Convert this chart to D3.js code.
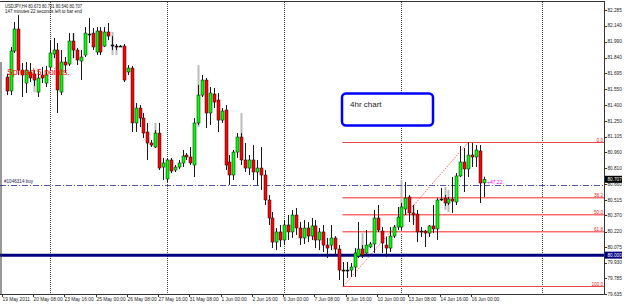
<!DOCTYPE html>
<html>
<head>
<meta charset="utf-8">
<script src="https://cdn.jsdelivr.net/npm/d3@7"></script>
<style>
  html, body { margin: 0; padding: 0; background: #fff; }
  svg { display: block; font-family: "Liberation Sans", Arial, sans-serif; }
</style>
</head>
<body>
<div class="chart"></div>
<script>
// USDJPY H4 candles, bar index 1..123 (bar 0 = 19 May 2011 00:00)
const firstBar = 1;
const open = [81.660,81.530,81.903,82.108,81.725,81.604,81.707,81.688,81.520,81.679,
  81.604,81.753,81.875,81.912,81.520,81.800,81.781,81.996,81.912,81.809,
  81.865,82.061,82.070,81.893,82.089,81.949,82.080,81.959,81.949,81.949,
  81.949,81.707,81.744,81.232,81.371,81.278,81.148,81.045,81.008,81.138,
  80.821,80.710,80.887,80.793,80.821,80.859,80.933,80.915,80.840,81.232,
  81.492,81.632,81.325,81.502,81.446,81.259,81.353,80.868,80.747,80.961,
  81.101,80.887,80.812,80.887,80.775,80.812,80.747,80.514,80.346,80.122,
  80.216,80.141,80.281,80.216,80.374,80.253,80.160,80.253,80.178,80.272,
  80.141,80.216,80.094,80.094,80.160,80.057,79.861,79.852,79.861,79.889,
  79.992,80.057,80.020,80.076,80.104,80.346,80.225,80.094,80.066,80.178,
  80.262,80.262,80.430,80.542,80.393,80.383,80.225,80.225,80.206,80.272,
  80.244,80.514,80.532,80.486,80.523,80.495,80.738,80.868,80.803,80.933,
  80.915,80.971,80.673];
const high = [81.688,81.940,82.173,82.238,81.791,81.800,81.791,81.725,81.725,81.753,
  81.763,82.005,82.024,81.977,81.912,81.847,82.070,82.070,81.931,81.912,
  82.126,82.210,82.117,82.126,82.126,82.126,82.164,82.042,81.968,81.959,
  81.968,81.772,81.763,81.418,81.399,81.325,81.232,81.073,81.166,81.232,
  80.905,80.905,80.905,80.840,80.887,80.980,80.952,81.008,81.278,81.586,
  81.679,81.651,81.567,81.558,81.511,81.371,81.399,80.933,80.980,81.138,
  81.138,81.045,80.933,81.026,80.887,81.008,80.793,80.560,80.402,80.253,
  80.281,80.327,80.374,80.421,80.439,80.309,80.327,80.309,80.346,80.327,
  80.253,80.281,80.160,80.281,80.178,80.094,79.936,79.936,79.927,80.066,
  80.309,80.094,80.234,80.122,80.421,80.467,80.262,80.169,80.262,80.281,
  80.449,80.486,80.682,80.560,80.467,80.421,80.262,80.234,80.281,80.467,
  80.532,80.626,80.560,80.542,80.728,80.765,81.017,80.998,81.054,81.045,
  81.026,81.026,80.731];
const low = [81.492,81.492,81.884,81.679,81.474,81.511,81.614,81.576,81.474,81.604,
  81.567,81.725,81.837,81.325,81.492,81.698,81.763,81.837,81.772,81.632,
  81.847,81.977,81.912,81.865,81.865,81.940,82.005,81.912,81.912,81.940,
  81.614,81.679,81.148,81.148,81.194,81.092,80.887,81.008,80.998,80.793,
  80.700,80.682,80.765,80.775,80.803,80.821,80.887,80.840,80.728,81.213,
  81.474,81.185,81.213,81.371,81.148,81.232,80.793,80.654,80.700,80.905,
  80.840,80.775,80.747,80.700,80.654,80.607,80.467,80.281,80.066,80.048,
  80.076,80.094,80.141,80.160,80.188,80.094,80.104,80.122,80.141,80.066,
  80.048,80.029,79.973,80.048,80.001,79.768,79.712,79.787,79.796,79.796,
  79.973,79.973,79.992,80.066,80.020,80.216,80.020,79.982,80.029,80.160,
  80.234,80.234,80.374,80.309,80.281,80.122,80.169,80.076,80.169,80.206,
  80.141,80.504,80.458,80.467,80.393,80.467,80.728,80.588,80.728,80.821,
  80.821,80.486,80.540];
const close = [81.530,81.903,82.108,81.725,81.679,81.725,81.651,81.632,81.651,81.651,
  81.679,81.884,81.912,81.539,81.800,81.772,81.996,81.912,81.819,81.847,
  82.070,82.052,81.940,82.089,81.893,82.080,82.042,81.949,81.948,81.949,
  81.632,81.744,81.232,81.371,81.278,81.138,81.045,81.026,81.138,80.812,
  80.859,80.887,80.784,80.821,80.859,80.924,80.915,80.859,81.232,81.492,
  81.632,81.325,81.511,81.427,81.259,81.343,80.840,80.747,80.961,81.101,
  80.887,80.812,80.887,80.775,80.812,80.747,80.514,80.346,80.122,80.216,
  80.141,80.281,80.216,80.374,80.253,80.160,80.253,80.178,80.272,80.141,
  80.216,80.094,80.066,80.160,80.057,79.861,79.852,79.861,79.889,80.020,
  80.057,80.001,80.094,80.104,80.346,80.234,80.113,80.066,80.178,80.262,
  80.355,80.449,80.532,80.393,80.374,80.216,80.216,80.206,80.272,80.244,
  80.514,80.523,80.486,80.523,80.504,80.738,80.868,80.803,80.933,80.915,
  80.980,80.672,80.707];

// grey shadow bars behind some candles: [bar, top, bottom]
const ghostBars = [[8,81.698,81.520],[18,82.070,81.837],[28,82.080,81.865],[29,81.949,81.865],
  [39,81.232,81.138],[50,81.772,81.194],[61,81.325,80.980],[92,80.216,80.020],
  [102,80.700,80.449],[105,80.467,80.327],[113,80.635,80.421],[114,80.607,80.402]];

const timeLabels = [[0,'19 May 2011'],[8,'20 May 08:00'],[16,'23 May 16:00'],[24,'25 May 00:00'],
  [32,'26 May 08:00'],[40,'27 May 16:00'],[48,'31 May 08:00'],[56,'1 Jun 00:00'],
  [64,'2 Jun 16:00'],[72,'6 Jun 00:00'],[80,'7 Jun 08:00'],[88,'8 Jun 16:00'],
  [96,'10 Jun 00:00'],[104,'13 Jun 08:00'],[112,'14 Jun 16:00'],[120,'16 Jun 00:00']];
const priceTicks = [82.285,82.140,81.990,81.840,81.695,81.550,81.400,81.250,81.105,80.960,
  80.810,80.660,80.515,80.370,80.220,80.075,79.930,79.785,79.635];
const separators = [12, 42, 72, 102, 138];

const fibLevels = [0, 38.2, 50, 61.8, 100];
const fibLow = {bar: 87, price: 79.712};
const fibHigh = {bar: 119, price: 81.054};
const hLinePrice = 80.000;
const orderPrice = 80.654;
const lastPrice = 80.707;

const W = 625, H = 304, plotRight = 604, plotBottom = 294;

const svg = d3.select('.chart').append('svg')
  .attr('width', W).attr('height', H);

const x = d3.scaleLinear().domain([0, 123]).range([2.7, 483.6]);
const y = d3.scaleLinear().domain([79.635, 82.285]).range([294.3, 10]);
const px = i => Math.round(x(i)) + 0.5;

svg.append('defs').append('clipPath').attr('id', 'clip')
  .append('rect').attr('x', 0).attr('y', 0).attr('width', plotRight).attr('height', plotBottom);

const plot = svg.append('g').attr('clip-path', 'url(#clip)');

// week separators
plot.selectAll('line.sep')
  .data(separators)
  .enter().append('line')
    .attr('class', 'sep')
    .attr('x1', d => px(d)).attr('x2', d => px(d))
    .attr('y1', 2).attr('y2', plotBottom)
    .attr('stroke', '#444').attr('stroke-width', 1)
    .attr('stroke-dasharray', '1,1');

// grey shadow bars
plot.selectAll('rect.ghost')
  .data(ghostBars)
  .enter().append('rect')
    .attr('class', 'ghost')
    .attr('x', d => px(d[0]) - 1)
    .attr('y', d => y(d[1]))
    .attr('width', 2)
    .attr('height', d => y(d[2]) - y(d[1]))
    .attr('fill', '#bcbcbc');

// fibonacci
const fibPrice = r => fibHigh.price - r / 100 * (fibHigh.price - fibLow.price);
const fibX0 = px(fibLow.bar) - 1;
fibLevels.forEach(r => {
  const fy = Math.round(y(fibPrice(r))) + 0.5;
  const edge = r === 0 || r === 100;
  if (!edge) {
    plot.append('line')
      .attr('x1', fibX0).attr('x2', plotRight).attr('y1', fy + 1).attr('y2', fy + 1)
      .attr('stroke', '#ffb8b8').attr('stroke-width', 1);
  }
  plot.append('line')
    .attr('x1', fibX0).attr('x2', plotRight).attr('y1', fy).attr('y2', fy)
    .attr('stroke', edge ? '#e84848' : '#ff6a6a').attr('stroke-width', 1);
  svg.append('text')
    .attr('x', 603).attr('y', fy - 1)
    .attr('text-anchor', 'end')
    .attr('font-size', '4.6px')
    .attr('fill', '#e02020')
    .text(r.toFixed(1));
});
plot.append('line')
  .attr('x1', px(fibLow.bar)).attr('y1', y(fibLow.price))
  .attr('x2', px(fibHigh.bar)).attr('y2', y(fibHigh.price))
  .attr('stroke', '#ff3030').attr('stroke-width', 1)
  .attr('stroke-dasharray', '1,1.5');

// order line
const oy = Math.round(y(orderPrice)) + 0.5;
plot.append('line')
  .attr('x1', 0).attr('x2', plotRight).attr('y1', oy).attr('y2', oy)
  .attr('stroke', '#5656a8').attr('stroke-width', 1)
  .attr('stroke-dasharray', '6,2,1,2');

// horizontal line 80.000
plot.append('line')
  .attr('x1', 0).attr('x2', plotRight)
  .attr('y1', y(hLinePrice)).attr('y2', y(hLinePrice))
  .attr('stroke', '#000080').attr('stroke-width', 3);

// candles
const bars = open.map((o, k) => ({i: k + firstBar, o, h: high[k], l: low[k], c: close[k]}));

const candle = plot.selectAll('g.candle')
  .data(bars)
  .enter().append('g').attr('class', 'candle');

candle.append('line')
  .attr('x1', d => px(d.i)).attr('x2', d => px(d.i))
  .attr('y1', d => y(d.h)).attr('y2', d => y(d.l))
  .attr('stroke', '#1a1a1a').attr('stroke-width', 1);

candle.append('rect')
  .attr('x', d => px(d.i) - 1.5)
  .attr('y', d => y(Math.max(d.o, d.c)))
  .attr('width', 3)
  .attr('height', d => Math.max(1, Math.abs(y(d.o) - y(d.c))))
  .attr('fill', d => Math.abs(y(d.o) - y(d.c)) < 1.2 ? '#111' : (d.c >= d.o ? '#00ff00' : '#ff0000'))
  .attr('stroke', '#111').attr('stroke-width', 0.5);

// frame
svg.append('line').attr('x1', 0).attr('x2', plotRight + 0.5).attr('y1', 1.5).attr('y2', 1.5)
  .attr('stroke', '#333');
svg.append('line').attr('x1', plotRight + 0.5).attr('x2', plotRight + 0.5).attr('y1', 1).attr('y2', plotBottom + 1)
  .attr('stroke', '#333');
svg.append('line').attr('x1', 0).attr('x2', plotRight + 0.5).attr('y1', plotBottom + 0.5).attr('y2', plotBottom + 0.5)
  .attr('stroke', '#333');
svg.append('line').attr('x1', 1).attr('x2', 1).attr('y1', 62).attr('y2', plotBottom)
  .attr('stroke', '#333');

// price axis
svg.selectAll('line.ytick')
  .data(priceTicks)
  .enter().append('line')
    .attr('class', 'ytick')
    .attr('x1', plotRight + 0.5).attr('x2', plotRight + 3)
    .attr('y1', d => Math.round(y(d)) + 0.5).attr('y2', d => Math.round(y(d)) + 0.5)
    .attr('stroke', '#333');
svg.selectAll('text.ylab')
  .data(priceTicks)
  .enter().append('text')
    .attr('class', 'ylab')
    .attr('x', 607.5).attr('y', d => y(d) + 1.7)
    .attr('font-size', '4.7px').attr('fill', '#222')
    .text(d => d.toFixed(3));

function priceTag(p, bg) {
  const ty = y(p);
  svg.append('rect').attr('x', 605).attr('y', ty - 3.5).attr('width', 17).attr('height', 7)
    .attr('fill', bg);
  svg.append('text').attr('x', 607.5).attr('y', ty + 1.7)
    .attr('font-size', '4.7px').attr('fill', '#fff').text(p.toFixed(3));
}
priceTag(lastPrice, '#000');
priceTag(hLinePrice, '#000080');

// time axis
svg.selectAll('line.xtick')
  .data(timeLabels)
  .enter().append('line')
    .attr('class', 'xtick')
    .attr('x1', d => px(d[0]) - 1).attr('x2', d => px(d[0]) - 1)
    .attr('y1', plotBottom).attr('y2', plotBottom + 3)
    .attr('stroke', '#333');
svg.selectAll('text.xlab')
  .data(timeLabels)
  .enter().append('text')
    .attr('class', 'xlab')
    .attr('x', d => px(d[0]) - 1)
    .attr('y', 300.5)
    .attr('font-size', '4.8px').attr('fill', '#222')
    .text(d => d[1]);

// labels and notes
svg.append('text').attr('x', 5).attr('y', 7.5)
  .attr('font-size', '4.6px').attr('fill', '#111')
  .attr('textLength', 77).attr('lengthAdjust', 'spacingAndGlyphs')
  .text('USDJPY,H4  80.673 80.731 80.540 80.707');
svg.append('text').attr('x', 5).attr('y', 12.5)
  .attr('font-size', '4.6px').attr('fill', '#111')
  .attr('textLength', 77).attr('lengthAdjust', 'spacingAndGlyphs')
  .text('147 minutes 22 seconds left to bar end');

svg.append('text').attr('x', 7).attr('y', 74.5)
  .attr('font-size', '8.6px').attr('fill', '#ff0000')
  .text('Spread 5 points.');

svg.append('text').attr('x', 4).attr('y', 183)
  .attr('font-size', '4.6px').attr('fill', '#202050')
  .text('#1046314 buy');

svg.append('text').attr('x', 487).attr('y', 183.5)
  .attr('font-size', '5px').attr('fill', '#ff00ff')
  .text('+47.22');

svg.append('rect')
  .attr('x', 342).attr('y', 93.5).attr('width', 91).attr('height', 32).attr('rx', 4)
  .attr('fill', '#fff').attr('stroke', '#0000ff').attr('stroke-width', 2.5);
svg.append('text').attr('x', 350).attr('y', 106.5)
  .attr('font-size', '8px').attr('fill', '#222')
  .text('4hr chart');
</script>
</body>
</html>
